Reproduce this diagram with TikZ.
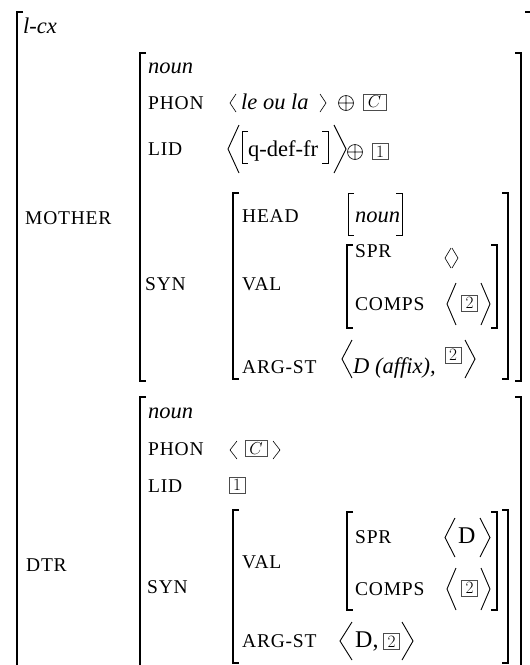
\documentclass[tikz,border=0pt]{standalone}
\usepackage{fontspec}
\setmainfont{Liberation Serif}
\newfontfamily\labfont[LetterSpace=4]{Liberation Serif}
\tikzset{
 brk/.style={line width=1.5pt},
 thinbrk/.style={line width=0.8pt},
 ang/.style={line width=0.9pt},
 smang/.style={line width=0.6pt},
 lab/.style={anchor=base west, inner sep=0pt, font=\labfont\fontsize{19.5}{20}\selectfont},
 txt/.style={anchor=base west, inner sep=0pt, font=\fontsize{22.5}{24}\selectfont},
 itxt/.style={anchor=base west, inner sep=0pt, font=\fontsize{22.5}{24}\selectfont\itshape},
 tagbox/.style={draw=black!70, line width=0.8pt, inner sep=0pt, minimum width=16pt, minimum height=16pt, font=\LARGE},
}
\newcommand\LBr[4][brk]{\draw[#1] (#2+6,#3) -- (#2,#3) -- (#2,#4) -- (#2+6,#4);}
\newcommand\RBr[4][brk]{\draw[#1] (#2-6,#3) -- (#2,#3) -- (#2,#4) -- (#2-6,#4);}
\newcommand\Ang[5][ang]{\draw[#1] (#3,#4) -- (#2,{(#4+#5)/2}) -- (#3,#5);}
\newcommand\OPlus[2]{\draw[smang] (#1,#2) circle (7.5pt) (#1-7.5,#2) -- (#1+7.5,#2) (#1,#2-7.5) -- (#1,#2+7.5);}
\begin{document}
\begin{tikzpicture}[x=1pt,y=-1pt]
\useasboundingbox (0,0) rectangle (530,665);
% outer
\LBr{17}{12}{700}
\RBr{531}{12}{700}
\node[itxt] (lcx) at (23,33) {l-cx};
\node[lab] (mother) at (25,224) {MOTHER};
\node[lab] (dtr) at (26,571) {DTR};
% ===== MOTHER =====
\LBr{140}{53}{381}
\RBr{521}{53}{381}
\node[itxt] (mnoun) at (148,73) {noun};
\node[lab] (mphon) at (148,109) {PHON};
\Ang[smang]{230}{236}{94}{112}
\node[itxt] (mleou) at (241,109) {le ou la};
\Ang[smang]{326}{320}{94}{112}
\OPlus{346}{103}
\node[tagbox, minimum width=23pt] (mboxc) at (374.5,102) {$C$};
\node[lab] (mlid) at (148,155) {LID};
\Ang{228}{239}{125}{173}
\LBr[thinbrk]{242}{131}{163}
\node[txt] (qdef) at (248,156) {q-def-fr};
\RBr[thinbrk]{328}{131}{163}
\Ang{346}{334}{125}{173}
\OPlus{355}{152}
\node[tagbox] (mbox1) at (380,151.5) {$1$};
\node[lab] (msyn) at (145,290) {SYN};
\LBr{233}{193}{379}
\RBr{508}{193}{379}
\node[lab] (mhead) at (242,222) {HEAD};
\LBr[thinbrk]{348}{193}{235}
\node[itxt] (mheadv) at (355,222) {noun};
\RBr[thinbrk]{402}{193}{235}
\node[lab] (mval) at (242,290) {VAL};
\LBr{347}{245}{328}
\RBr{497}{245}{328}
\node[lab] (mspr) at (355,257) {SPR};
\Ang[smang]{445}{451}{248}{268}
\Ang[smang]{458}{452}{248}{268}
\node[lab] (mcomps) at (355,310) {COMPS};
\Ang{447}{456}{283}{325}
\node[tagbox] (mbox2a) at (469.5,303) {$2$};
\Ang{490}{481}{283}{325}
\node[lab] (marg) at (242,373) {ARG-ST};
\Ang{342}{352}{340}{378}
\node[itxt] (maffix) at (353,373) {D (affix),};
\node[tagbox] (mbox2b) at (453,355) {$2$};
\Ang{475}{465}{340}{378}
% ===== DTR =====
\LBr{140}{397}{731}
\RBr{521}{397}{731}
\node[itxt] (dnoun) at (148,418) {noun};
\node[lab] (dphon) at (148,455) {PHON};
\Ang[smang]{230}{237}{441}{459}
\node[tagbox, minimum width=22pt] (dboxc) at (256,448.5) {$C$};
\Ang[smang]{280}{273}{441}{459}
\node[lab] (dlid) at (148,492) {LID};
\node[tagbox] (dbox1) at (237,485) {$1$};
\node[lab] (dsyn) at (147,593) {SYN};
\LBr{233}{510}{663}
\RBr{508}{510}{663}
\node[lab] (dval) at (242,568) {VAL};
\LBr{347}{512}{610}
\RBr{497}{512}{610}
\node[lab] (dspr) at (355,543) {SPR};
\Ang{445}{455}{518}{557}
\node[txt, font=\fontsize{24}{24}\selectfont] (dsprd) at (458,543) {D};
\Ang{490}{480}{518}{557}
\node[lab] (dcomps) at (355,595) {COMPS};
\Ang{447}{456}{568}{610}
\node[tagbox] (dbox2a) at (469.5,588) {$2$};
\Ang{490}{481}{568}{610}
\node[lab] (darg) at (242,647) {ARG-ST};
\Ang{340}{352}{622}{660}
\node[txt, font=\fontsize{24}{24}\selectfont] (dargd) at (355,647) {D,};
\node[tagbox] (dbox2b) at (391.5,641.5) {$2$};
\Ang{413}{402}{622}{660}
\end{tikzpicture}
\end{document}
